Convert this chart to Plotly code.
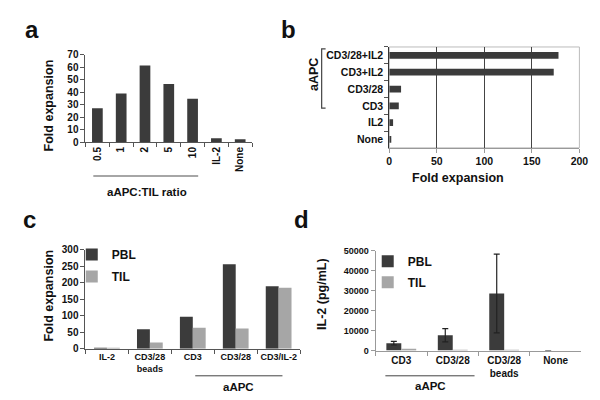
import plotly.graph_objects as go

# ---------------- data ----------------
a_cats = ["0.5", "1", "2", "5", "10", "IL-2", "None"]
a_vals = [27, 39, 61.3, 46.5, 34.7, 3, 2.2]

b_cats = ["CD3/28+IL2", "CD3+IL2", "CD3/28", "CD3", "IL2", "None"]
b_vals = [178, 173, 12.4, 10, 4, 1.3]

c_cats = ["IL-2", "CD3/28<br>beads", "CD3", "CD3/28", "CD3/IL-2"]
c_pbl = [2, 58.5, 97, 256, 189]
c_til = [2, 18.5, 63, 61, 185]

d_cats = ["CD3", "CD3/28", "CD3/28<br>beads", "None"]
d_pbl = [3700, 7700, 28600, 0]
d_pbl_err = [900, 3300, 19700, 0]
d_til = [600, 300, 300, 0]

DARK = "#3b3b3b"
LIGHT = "#a6a6a6"
FONT = "Liberation Sans"


def px(x):
    return x / 600.0


def py(y):
    return 1 - y / 400.0


fig = go.Figure()

# panel a
fig.add_trace(go.Bar(x=a_cats, y=a_vals, marker=dict(color=DARK, line=dict(width=0)),
                     width=0.45, xaxis="x", yaxis="y", showlegend=False))
# panel b
fig.add_trace(go.Bar(x=b_vals, y=b_cats, orientation="h", marker=dict(color=DARK, line=dict(width=0)),
                     width=0.4, xaxis="x2", yaxis="y2", showlegend=False))
# panel c
fig.add_trace(go.Bar(x=c_cats, y=c_pbl, name="PBL", marker=dict(color=DARK, line=dict(width=0)),
                     width=0.3, offset=-0.3, xaxis="x3", yaxis="y3", legend="legend",
                     legendgroup="p"))
fig.add_trace(go.Bar(x=c_cats, y=c_til, name="TIL", marker=dict(color=LIGHT, line=dict(width=0)),
                     width=0.3, offset=0.0, xaxis="x3", yaxis="y3", legend="legend",
                     legendgroup="t"))
# panel d
fig.add_trace(go.Bar(x=d_cats, y=d_pbl, name="PBL", marker=dict(color=DARK, line=dict(width=0)),
                     width=0.29, offset=-0.29, xaxis="x4", yaxis="y4", legend="legend2",
                     legendgroup="p2",
                     error_y=dict(type="data", array=d_pbl_err, color="#222", thickness=1.2, width=3)))
fig.add_trace(go.Bar(x=d_cats, y=d_til, name="TIL", marker=dict(color=LIGHT, line=dict(width=0)),
                     width=0.29, offset=0.0, xaxis="x4", yaxis="y4", legend="legend2",
                     legendgroup="t2"))

tickfont10 = dict(family=FONT, size=10, color="#111", weight="bold")
tickfont9 = dict(family=FONT, size=9, color="#111", weight="bold")

common = dict(showline=True, linewidth=1, ticks="outside", ticklen=4, tickwidth=1,
              zeroline=False, showgrid=False, fixedrange=True)

layout = dict(
    width=600, height=400,
    margin=dict(l=0, r=0, t=0, b=0),
    paper_bgcolor="white", plot_bgcolor="white",
    barmode="overlay",
    font=dict(family=FONT, color="#111"),
    # panel a
    xaxis=dict(domain=[px(76), px(246)], anchor="y", type="category", tickangle=-90,
               tickson="boundaries", linecolor="#555", tickcolor="#555", tickfont=tickfont10, **common),
    yaxis=dict(domain=[py(132), py(42)], anchor="x", range=[0, 70], dtick=10,
               linecolor="#555", tickcolor="#555", tickfont=tickfont10, **common),
    # panel b
    xaxis2=dict(domain=[px(386), px(580)], anchor="y2", range=[0, 200], dtick=50,
                linecolor="#999", tickcolor="#999", tickfont=dict(family=FONT, size=10.5, color="#111", weight="bold"),
                **{k: v for k, v in common.items() if k != "showgrid"}, showgrid=True, gridcolor="#444", gridwidth=1),
    yaxis2=dict(domain=[py(138), py(34)], anchor="x2", type="category", autorange="reversed",
                tickson="boundaries", linecolor="#333", tickcolor="#555", ticklabelstandoff=3,
                tickfont=dict(family=FONT, size=10.5, color="#111", weight="bold"), **common),
    # panel c
    xaxis3=dict(domain=[px(76), px(295)], anchor="y3", type="category", tickson="boundaries",
                tickangle=0, linecolor="#555", tickcolor="#555", tickfont=tickfont9, **common),
    yaxis3=dict(domain=[py(345), py(243)], anchor="x3", range=[0, 300], dtick=50,
                linecolor="#555", tickcolor="#555", tickfont=tickfont10, **common),
    # panel d
    xaxis4=dict(domain=[px(372), px(582)], anchor="y4", type="category", tickson="boundaries",
                tickangle=0, linecolor="#999", tickcolor="#999",
                tickfont=dict(family=FONT, size=10, color="#111", weight="bold"), **common),
    yaxis4=dict(domain=[py(347), py(244)], anchor="x4", range=[0, 50000], dtick=10000, tickformat="d",
                linecolor="#999", tickcolor="#999", tickfont=tickfont9, **common),
    legend=dict(x=px(62), y=py(233), xanchor="left", yanchor="top", bgcolor="rgba(0,0,0,0)",
                font=dict(family=FONT, size=12, color="#111", weight="bold"),
                traceorder="grouped", tracegroupgap=3, itemwidth=30),
    legend2=dict(x=px(364), y=py(240), xanchor="left", yanchor="top", bgcolor="rgba(0,0,0,0)",
                 font=dict(family=FONT, size=12, color="#111", weight="bold"),
                 traceorder="grouped", tracegroupgap=2, itemwidth=30),
)
fig.update_layout(**layout)


def ann(text, x, y, size=12, angle=0):
    fig.add_annotation(text=text, x=px(x), y=py(y), xref="paper", yref="paper",
                       xanchor="center", yanchor="middle", showarrow=False, textangle=angle,
                       font=dict(family=FONT, size=size, color="#111", weight="bold"))


# panel letters
ann("a", 21, 16, size=24)
ann("b", 283, 16, size=24)
ann("c", 19, 212, size=24)
ann("d", 296, 212, size=24)

# axis titles
ann("Fold expansion", 39, 94, size=12.5, angle=-90)
ann("Fold expansion", 456, 169, size=12.5)
ann("aAPC", 309, 62, size=12.5, angle=-90)
ann("Fold expansion", 39, 290, size=12.5, angle=-90)
ann("IL-2 (pg/mL)", 318, 289, size=12.5, angle=-90)

# group labels
ann("aAPC:TIL ratio", 139, 183, size=11.5)
ann("aAPC", 232, 385, size=11.5)
ann("aAPC", 428, 384, size=11.5)


def line(x0, y0, x1, y1, color="#777", w=1.2):
    fig.add_shape(type="line", xref="paper", yref="paper", x0=px(x0), y0=py(y0), x1=px(x1), y1=py(y1),
                  line=dict(color=color, width=w))


line(84, 167, 191, 167, color="#888", w=1.5)
line(188, 373, 277, 373, color="#444", w=1)
line(382, 373, 473, 373, color="#444", w=1)

# bracket in panel b
fig.add_shape(type="path", xref="paper", yref="paper",
              path=f"M {px(321)},{py(36)} L {px(317)},{py(36)} L {px(317)},{py(97)} L {px(321)},{py(97)}",
              line=dict(color="#444", width=1.2))

# light frame of panel b
fig.add_shape(type="rect", xref="x2 domain", yref="y2 domain", x0=0, x1=1, y0=0, y1=1,
              line=dict(color="#bbb", width=1), layer="below")

fig.write_html("out.html")
